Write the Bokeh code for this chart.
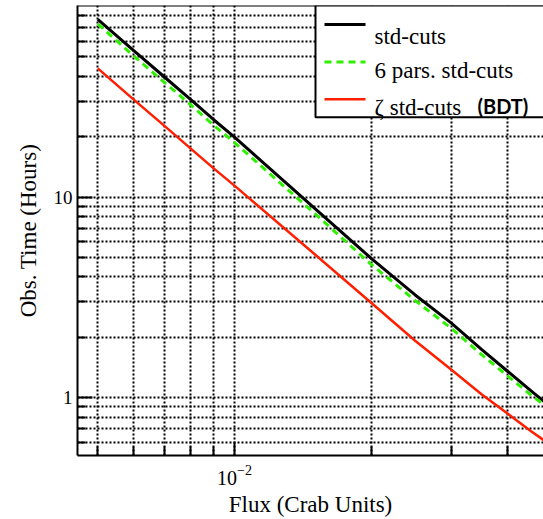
import math
from bokeh.plotting import figure
from bokeh.models import (FixedTicker, LogTickFormatter, CustomJSTickFormatter, Span, Range1d,
                          BoxAnnotation, Arrow, Label)
from bokeh.embed import file_html
from bokeh.resources import INLINE

# ---- data ----
flux = [0.005, 0.006, 0.007, 0.008, 0.009, 0.01, 0.015, 0.02, 0.025, 0.03, 0.035, 0.04, 0.045, 0.05]
t_std = [76.9, 53.7, 39.8, 30.7, 24.3, 19.9, 8.82, 4.95, 3.25, 2.36, 1.74, 1.35, 1.08, 0.89]
t_6pars = [73.0, 50.5, 37.4, 28.9, 22.8, 18.7, 8.3, 4.62, 3.05, 2.22, 1.64, 1.28, 1.03, 0.86]
t_zeta = [43.8, 30.6, 22.7, 17.5, 13.9, 11.4, 5.2, 2.97, 1.92, 1.38, 1.04, 0.83, 0.68, 0.575]

x_major = [0.01]
x_minor = [0.005, 0.006, 0.007, 0.008, 0.009, 0.02, 0.03, 0.04]
y_major = [1, 10]
y_minor = [0.6, 0.7, 0.8, 0.9, 2, 3, 4, 5, 6, 7, 8, 9, 20, 30, 40, 50, 60, 70, 80]

labels = ["std-cuts", "6 pars. std-cuts", "ζ std-cuts"]
extra_label = "(BDT)"
x_title = "Flux (Crab Units)"
y_title = "Obs. Time (Hours)"

X_START, X_END = 0.004511, 0.04793
Y_START, Y_END = 0.5145, 90.2

SERIF = "Liberation Serif"

# ---- layout (pixels) ----
W, H = 543, 519
LEFT, TOP, BOTTOM = 77, 5, 63
FW, FH = W - LEFT, H - TOP - BOTTOM


def px_x(px):
    """page pixel column -> data x (for placing the hand-made legend)"""
    a, b = math.log10(X_START), math.log10(X_END)
    return 10 ** (a + (px - LEFT) / FW * (b - a))


def px_y(py):
    """page pixel row -> data y"""
    a, b = math.log10(Y_START), math.log10(Y_END)
    return 10 ** (b - (py - TOP) / FH * (b - a))


p = figure(width=W, height=H, x_axis_type="log", y_axis_type="log",
           x_range=Range1d(X_START, X_END), y_range=Range1d(Y_START, Y_END),
           output_backend="svg", toolbar_location=None,
           min_border_left=LEFT, min_border_right=0, min_border_top=TOP, min_border_bottom=BOTTOM)
p.outline_line_color = None
p.background_fill_color = "white"
p.border_fill_color = "white"

# axes
p.xaxis.ticker = FixedTicker(ticks=x_major, minor_ticks=x_minor)
p.yaxis.ticker = FixedTicker(ticks=y_major, minor_ticks=y_minor)
p.xaxis.formatter = LogTickFormatter()
p.yaxis.formatter = CustomJSTickFormatter(code="return String(tick)")

for ax in (p.xaxis[0], p.yaxis[0]):
    ax.axis_line_width = 2
    ax.axis_line_color = "black"
    ax.major_tick_line_width = 2
    ax.minor_tick_line_width = 2
    ax.major_tick_line_color = "black"
    ax.minor_tick_line_color = "black"
    ax.major_tick_out = 0
    ax.minor_tick_out = 0
    ax.major_label_text_font = SERIF
    ax.major_label_text_color = "black"
    ax.axis_label_text_font = SERIF
    ax.axis_label_text_font_size = "23px"
    ax.axis_label_text_font_style = "normal"
    ax.axis_label_text_color = "black"

p.xaxis.major_label_text_font_size = "20px"
p.yaxis.major_label_text_font_size = "19px"
p.xaxis.major_tick_in = 13
p.xaxis.minor_tick_in = 9
p.xaxis.major_label_standoff = 9
p.yaxis.major_tick_in = 15
p.yaxis.minor_tick_in = 8
p.yaxis.major_label_standoff = 5

p.yaxis.axis_label = y_title
p.yaxis.axis_label_standoff = 10
p.xaxis.axis_label = x_title
p.xaxis.axis_label_standoff = 4

# grid
for g in (p.xgrid[0], p.ygrid[0]):
    g.grid_line_color = "black"
    g.grid_line_dash = "2 2"
    g.grid_line_width = 2
    g.minor_grid_line_color = "black"
    g.minor_grid_line_dash = "2 2"
    g.minor_grid_line_width = 2

# top frame border
p.add_layout(Span(location=Y_END, dimension="width", line_color="black", line_width=2))

# series
styles = [dict(line_color="black", line_width=3, line_dash="solid"),
          dict(line_color="#2ef000", line_width=3, line_dash="7 5"),
          dict(line_color="#ff1e00", line_width=2.5, line_dash="solid")]
for series, st in zip([t_std, t_6pars, t_zeta], styles):
    p.line(flux, series, **st)

# ---- hand-made legend (box, sample lines, texts) ----
p.add_layout(BoxAnnotation(left=px_x(315), right=X_END * 2, top=Y_END, bottom=px_y(117),
                           fill_color="white", fill_alpha=1.0,
                           line_color="black", line_width=2, line_alpha=1.0))

row_line_y = [24, 61.7, 99]
row_base_y = [36, 70.5, 107.5]
for lab, st, ly, by in zip(labels, styles, row_line_y, row_base_y):
    p.add_layout(Arrow(start=None, end=None, x_start=px_x(324), x_end=px_x(365),
                       y_start=px_y(ly), y_end=px_y(ly), level="overlay", **st))
    p.add_layout(Label(x=px_x(374), y=px_y(by), text=lab, text_font=SERIF,
                       text_font_size="23px", text_color="black",
                       text_align="left", text_baseline="alphabetic", level="overlay"))

p.add_layout(Label(x=px_x(477), y=px_y(106), text=extra_label, text_font="Lato",
                   text_font_style="bold", text_font_size="20px", text_color="black",
                   text_align="left", text_baseline="alphabetic", level="overlay"))

open("out.html", "w").write(file_html(p, INLINE))
